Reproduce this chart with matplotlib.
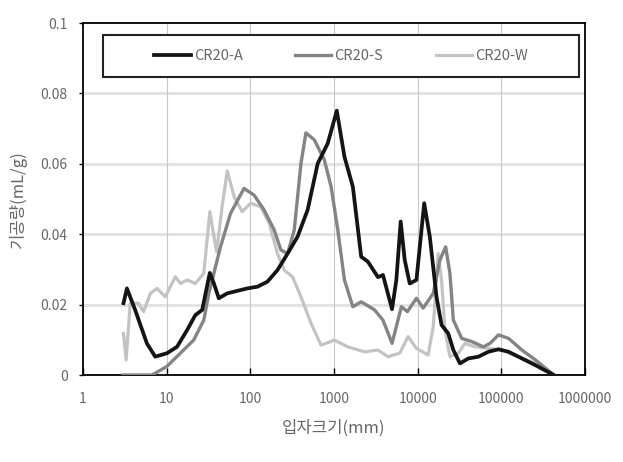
import numpy as np
import matplotlib
matplotlib.use('Agg')
import matplotlib.pyplot as plt
from matplotlib.patches import Rectangle

plt.rcParams['font.family'] = ['Noto Sans CJK KR', 'DejaVu Sans']

# particle size (mm) and pore volume (mL/g)
a_x = [3.05, 3.35, 4.2, 5.8, 7.3, 10.1, 13.3, 17.6, 22, 26.6, 29.2, 32.8, 36.7, 42, 53,
       92, 122, 160, 211, 279, 367, 484, 639, 842, 1080, 1334, 1680, 2114, 2543, 3353,
       3850, 4940, 5560, 6270, 7000, 8040, 9670, 11970, 13970, 16800, 19300, 23200,
       26700, 32000, 40400, 53200, 70100, 92500, 122000, 176000, 255000, 423000]
a_y = [0.0204, 0.0246, 0.0185, 0.009, 0.0052, 0.0062, 0.008, 0.0128, 0.017, 0.0185, 0.0232,
       0.029, 0.026, 0.0218, 0.0232, 0.0246, 0.0251, 0.0265, 0.0298, 0.0345, 0.0393, 0.0469,
       0.0601, 0.0658, 0.0751, 0.062, 0.0535, 0.0336, 0.0322, 0.0278, 0.0284, 0.0187, 0.027,
       0.0436, 0.0327, 0.026, 0.027, 0.0488, 0.0393, 0.0222, 0.0142, 0.0118, 0.0071, 0.0033,
       0.0047, 0.0052, 0.0066, 0.0073, 0.0066, 0.0047, 0.0028, 0.0]

s_x = [3.0, 6.7, 10, 14.6, 21, 27.8, 31.9, 36.7, 44, 58, 84, 111, 146, 193, 232, 279, 335,
       403, 462, 582, 767, 923, 1110, 1334, 1680, 2114, 3055, 3850, 4940, 6390, 7540, 9670,
       11640, 15350, 18450, 21600, 24300, 26700, 33600, 44300, 61100, 73400, 92500, 122000,
       176000, 255000, 423000]
s_y = [0.0, 0.0, 0.0024, 0.0062, 0.0099, 0.0156, 0.0232, 0.0289, 0.0364, 0.0459, 0.053,
       0.0511, 0.0469, 0.0412, 0.0355, 0.0345, 0.0412, 0.0601, 0.0688, 0.0668, 0.0611,
       0.0535, 0.0412, 0.027, 0.0194, 0.0208, 0.0185, 0.0156, 0.009, 0.0194, 0.018, 0.0218,
       0.019, 0.0232, 0.0327, 0.0364, 0.0289, 0.0156, 0.0104, 0.0095, 0.008, 0.009, 0.0114,
       0.0104, 0.0071, 0.0043, 0.0]

w_x = [3.05, 3.28, 3.67, 4.6, 5.3, 6.4, 7.7, 9.6, 12.7, 14.6, 17.6, 22, 27.8, 32.8, 39.5,
       46, 53, 64, 80, 101, 133, 168, 211, 254, 320, 403, 531, 700, 1012, 1460, 2320, 3350,
       4420, 6100, 7670, 9670, 13340, 15350, 17600, 19300, 21200, 24300, 30600, 36800,
       48500, 70100, 101000, 161000, 255000, 404000]
w_y = [0.0118, 0.0043, 0.0204, 0.0204, 0.018, 0.0232, 0.0246, 0.0222, 0.0279, 0.026, 0.027,
       0.026, 0.0289, 0.0464, 0.035, 0.0478, 0.058, 0.0507, 0.0464, 0.0488, 0.0478, 0.0431,
       0.0345, 0.0298, 0.0279, 0.0222, 0.0147, 0.0085, 0.0099, 0.008, 0.0066, 0.0071,
       0.0052, 0.0062, 0.0109, 0.0076, 0.0057, 0.0137, 0.0345, 0.027, 0.0128, 0.0052,
       0.0062, 0.009, 0.008, 0.0076, 0.0071, 0.0052, 0.0033, 0.0005]

series = ['CR20-A', 'CR20-S', 'CR20-W']
yticks = [0, 0.02, 0.04, 0.06, 0.08, 0.1]
ytick_labels = ['0', '0.02', '0.04', '0.06', '0.08', '0.1']
xticks = [1, 10, 100, 1000, 10000, 100000, 1000000]
xtick_labels = ['1', '10', '100', '1000', '10000', '100000', '1000000']

txt = '#666666'

fig = plt.figure(figsize=(6.23, 4.62), dpi=100)
ax = fig.add_axes([0.1332, 0.1883, 0.8058, 0.7619])

ax.plot(w_x, w_y, color='#c3c3c3', linewidth=2.3, label=series[2], zorder=3)
ax.plot(s_x, s_y, color='#848484', linewidth=2.4, label=series[1], zorder=4)
ax.plot(a_x, a_y, color='#141414', linewidth=2.7, label=series[0], zorder=5)

ax.set_xscale('log')
ax.set_xlim(1, 1e6)
ax.set_ylim(0, 0.1)
ax.set_xticks(xticks)
ax.set_xticklabels(xtick_labels)
ax.set_yticks(yticks)
ax.set_yticklabels(ytick_labels)
ax.minorticks_off()

ax.tick_params(axis='x', direction='in', length=5, width=1, colors='black',
               labelcolor=txt, labelsize=10, pad=12)
ax.tick_params(axis='y', direction='out', length=3, width=1, colors='black',
               labelcolor=txt, labelsize=10, pad=8)

for y in yticks[1:-1]:
    ax.axhline(y, color='#e3e3e3', linewidth=2.2, zorder=1)
for x in xticks[1:-1]:
    ax.axvline(x, color='#c8c8c8', linewidth=0.8, zorder=1)

for sp in ax.spines.values():
    sp.set_color('black')
    sp.set_linewidth(1.3)

# legend box drawn separately, entries centred inside it
box = Rectangle((0.04, 0.847), 0.948, 0.119, transform=ax.transAxes,
                facecolor='white', edgecolor='#222222', linewidth=1.5, zorder=6)
ax.add_patch(box)

handles, labels = ax.get_legend_handles_labels()
order = [2, 1, 0]
leg = ax.legend([handles[i] for i in order], [labels[i] for i in order],
                loc='center', bbox_to_anchor=(0.514, 0.9065),
                ncol=3, frameon=False, fontsize=10.5, handlelength=2.5,
                handletextpad=0.2, columnspacing=3.6, borderaxespad=0)
leg.set_zorder(7)
for t in leg.get_texts():
    t.set_color(txt)

ax.set_xlabel('입자크기(mm)', color=txt, fontsize=12, labelpad=10)
ax.set_ylabel('기공량(mL/g)', color=txt, fontsize=12, labelpad=10)

fig.savefig('out.png', dpi=100)
